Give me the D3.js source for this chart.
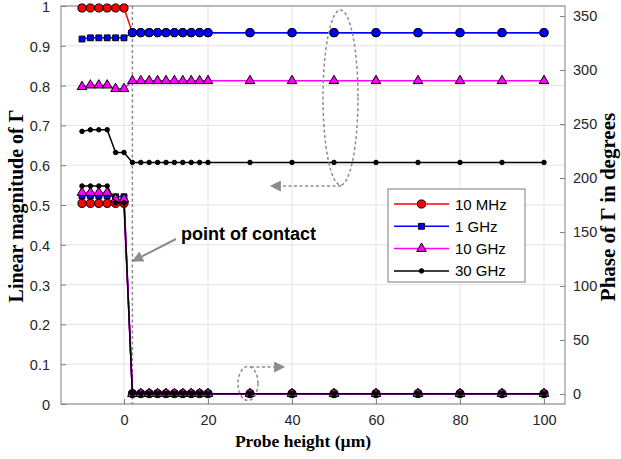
<!DOCTYPE html>
<html>
<head>
<meta charset="utf-8">
<script src="https://cdn.jsdelivr.net/npm/d3@7"></script>
<style>
  html, body { margin: 0; padding: 0; background: #fff; }
  svg { display: block; }
</style>
</head>
<body>
<svg id="chart"></svg>
<script>
// Probe height (um)
const heights = [-10, -8, -6, -4, -2, 0, 2, 4, 6, 8, 10, 12, 14, 16, 18, 20, 30, 40, 50, 60, 70, 80, 90, 100];

// Linear magnitude of Gamma (left axis)
const mag10M = [0.995, 0.995, 0.995, 0.995, 0.995, 0.995, 0.933, 0.933, 0.933, 0.933, 0.933, 0.933, 0.933, 0.933, 0.933, 0.933, 0.933, 0.933, 0.933, 0.933, 0.933, 0.933, 0.933, 0.933];
const mag1G  = [0.917, 0.920, 0.920, 0.920, 0.920, 0.920, 0.933, 0.933, 0.933, 0.933, 0.933, 0.933, 0.933, 0.933, 0.933, 0.933, 0.933, 0.933, 0.933, 0.933, 0.933, 0.933, 0.933, 0.933];
const mag10G = [0.797, 0.801, 0.801, 0.801, 0.792, 0.792, 0.812, 0.812, 0.812, 0.812, 0.812, 0.812, 0.812, 0.812, 0.812, 0.812, 0.812, 0.812, 0.812, 0.812, 0.812, 0.812, 0.812, 0.812];
const mag30G = [0.685, 0.689, 0.689, 0.689, 0.632, 0.632, 0.607, 0.607, 0.607, 0.607, 0.607, 0.607, 0.607, 0.607, 0.607, 0.607, 0.607, 0.607, 0.607, 0.607, 0.607, 0.607, 0.607, 0.607];

// Phase of Gamma in degrees (right axis)
const ph10M = [176.5, 176.5, 176.5, 176.5, 176.5, 176.5, 0.3, 0.3, 0.3, 0.3, 0.3, 0.3, 0.3, 0.3, 0.3, 0.3, 0.3, 0.3, 0.3, 0.3, 0.3, 0.3, 0.3, 0.3];
const ph1G  = [183.5, 183.5, 183.5, 183.5, 182.6, 182.6, 0.3, 0.3, 0.3, 0.3, 0.3, 0.3, 0.3, 0.3, 0.3, 0.3, 0.3, 0.3, 0.3, 0.3, 0.3, 0.3, 0.3, 0.3];
const ph10G = [186.5, 186.5, 186.5, 186.5, 180.4, 180.4, 0.3, 0.3, 0.3, 0.3, 0.3, 0.3, 0.3, 0.3, 0.3, 0.3, 0.3, 0.3, 0.3, 0.3, 0.3, 0.3, 0.3, 0.3];
const ph30G = [192.6, 192.6, 192.6, 192.6, 177.0, 177.0, 0.3, 0.3, 0.3, 0.3, 0.3, 0.3, 0.3, 0.3, 0.3, 0.3, 0.3, 0.3, 0.3, 0.3, 0.3, 0.3, 0.3, 0.3];

const seriesNames = ['10 MHz', '1 GHz', '10 GHz', '30 GHz'];
const xTicks  = [0, 20, 40, 60, 80, 100];
const yLTicks = [0, 0.1, 0.2, 0.3, 0.4, 0.5, 0.6, 0.7, 0.8, 0.9, 1];
const yRTicks = [0, 50, 100, 150, 200, 250, 300, 350];
const contactX = 2;

const W = 621, H = 459;
const m = { left: 61, right: 56, top: 6, bottom: 55 };
const iw = W - m.left - m.right, ih = H - m.top - m.bottom;

const svg = d3.select('#chart').attr('width', W).attr('height', H);
const g = svg.append('g').attr('transform', `translate(${m.left},${m.top})`);

const x  = d3.scaleLinear().domain([-15, 105]).range([0, iw]);
const yL = d3.scaleLinear().domain([0, 1]).range([ih, 0]);
const yR = d3.scaleLinear().domain([-9.3, 359.3]).range([ih, 0]);

const tickFont = '"Liberation Sans", Arial, sans-serif';
const axisCol = '#808080';
const textCol = '#262626';

// grid
g.append('g').selectAll('line').data(xTicks).join('line')
    .attr('x1', d => x(d)).attr('x2', d => x(d)).attr('y1', 0).attr('y2', ih)
    .attr('stroke', '#e3e3e3').attr('stroke-width', 1);
g.append('g').selectAll('line').data(yLTicks).join('line')
    .attr('x1', 0).attr('x2', iw).attr('y1', d => yL(d)).attr('y2', d => yL(d))
    .attr('stroke', '#e3e3e3').attr('stroke-width', 1);

// point of contact dashed line
g.append('line')
    .attr('x1', x(contactX)).attr('x2', x(contactX)).attr('y1', 0).attr('y2', ih)
    .attr('stroke', '#8c8c8c').attr('stroke-width', 1.5).attr('stroke-dasharray', '3,2.5');

// axes
function styleAxis(sel) {
    sel.select('.domain').remove();
    sel.selectAll('line').attr('stroke', axisCol);
    sel.selectAll('text').attr('fill', textCol).attr('font-family', tickFont).attr('font-size', 14.5);
}
g.append('g').attr('transform', `translate(0,${ih})`)
    .call(d3.axisBottom(x).tickValues(xTicks).tickSizeInner(-5).tickSizeOuter(0).tickPadding(11))
    .call(styleAxis);
g.append('g')
    .call(d3.axisLeft(yL).tickValues(yLTicks).tickSizeInner(-5).tickSizeOuter(0).tickPadding(11).tickFormat(d3.format('~g')))
    .call(styleAxis)
    .call(a => a.selectAll('text').attr('dy', '0.38em'));
g.append('g').attr('transform', `translate(${iw},0)`)
    .call(d3.axisRight(yR).tickValues(yRTicks).tickSizeInner(-5).tickSizeOuter(0).tickPadding(8))
    .call(styleAxis);
g.append('rect').attr('width', iw).attr('height', ih)
    .attr('fill', 'none').attr('stroke', axisCol).attr('stroke-width', 1);

// series
const colors = ['#ff0000', '#0000ff', '#ff00ff', '#000000'];
const shapes = [d3.symbolCircle, d3.symbolSquare, d3.symbolTriangle, d3.symbolCircle];
const sizes  = [52, 34, 40, 16];
const mags   = [mag10M, mag1G, mag10G, mag30G];
const phases = [ph10M, ph1G, ph10G, ph30G];

function drawSeries(vals, y, i) {
    const pts = heights.map((h, k) => ({ h, v: vals[k] }));
    g.append('path').datum(pts)
        .attr('fill', 'none').attr('stroke', colors[i]).attr('stroke-width', 1.5)
        .attr('d', d3.line().x(d => x(d.h)).y(d => y(d.v)));
    g.append('g').selectAll('path').data(pts).join('path')
        .attr('transform', d => `translate(${x(d.h)},${y(d.v)})`)
        .attr('d', d => {
            // 1 GHz markers overlap the 10 MHz circles after contact
            if (i === 1 && d.h > 0 && y === yL) return d3.symbol(d3.symbolCircle, 52)();
            return d3.symbol(shapes[i], sizes[i])();
        })
        .attr('fill', colors[i])
        .attr('stroke', '#000').attr('stroke-width', 1);
}
phases.forEach((p, i) => drawSeries(p, yR, i));
mags.forEach((p, i) => drawSeries(p, yL, i));

// annotations
const annCol = '#8c8c8c';
const defs = svg.append('defs');
defs.append('marker').attr('id', 'head2').attr('viewBox', '0 0 10 10')
    .attr('refX', 9).attr('refY', 5).attr('markerWidth', 14).attr('markerHeight', 11)
    .attr('markerUnits', 'userSpaceOnUse').attr('orient', 'auto')
    .append('path').attr('d', 'M0,0L10,5L0,10z').attr('fill', annCol);

// magnitude ellipse + arrow to left axis
svg.append('ellipse').attr('cx', 340.5).attr('cy', 97.5).attr('rx', 17.5).attr('ry', 87.5)
    .attr('fill', 'none').attr('stroke', annCol).attr('stroke-width', 1.5).attr('stroke-dasharray', '3,2.5');
svg.append('line').attr('x1', 341).attr('y1', 186).attr('x2', 271).attr('y2', 186)
    .attr('stroke', annCol).attr('stroke-width', 1.5).attr('stroke-dasharray', '3,2.5')
    .attr('marker-end', 'url(#head2)');

// phase ellipse + arrow to right axis
svg.append('ellipse').attr('cx', 248).attr('cy', 383.5).attr('rx', 10).attr('ry', 17)
    .attr('fill', 'none').attr('stroke', annCol).attr('stroke-width', 1.5).attr('stroke-dasharray', '3,2.5');
svg.append('line').attr('x1', 251).attr('y1', 367).attr('x2', 284).attr('y2', 367)
    .attr('stroke', annCol).attr('stroke-width', 1.5).attr('stroke-dasharray', '3,2.5')
    .attr('marker-end', 'url(#head2)');

// point of contact
svg.append('line').attr('x1', 176).attr('y1', 239).attr('x2', 133).attr('y2', 261)
    .attr('stroke', annCol).attr('stroke-width', 2).attr('marker-end', 'url(#head2)');
svg.append('text').attr('x', 181).attr('y', 240)
    .attr('font-family', tickFont).attr('font-weight', 'bold').attr('font-size', 18)
    .attr('fill', '#000').text('point of contact');

// legend
const lg = svg.append('g').attr('transform', 'translate(388,189)');
lg.append('rect').attr('width', 137).attr('height', 93)
    .attr('fill', '#fff').attr('stroke', '#7a7a7a').attr('stroke-width', 1);
seriesNames.forEach((name, i) => {
    const ly = 15 + i * 22.3;
    lg.append('line').attr('x1', 6).attr('x2', 61).attr('y1', ly).attr('y2', ly)
        .attr('stroke', colors[i]).attr('stroke-width', 1.5);
    lg.append('path').attr('transform', `translate(33.5,${ly})`)
        .attr('d', d3.symbol(shapes[i], sizes[i])())
        .attr('fill', colors[i]).attr('stroke', '#000').attr('stroke-width', 1);
    lg.append('text').attr('x', 67).attr('y', ly + 5.5)
        .attr('font-family', tickFont).attr('font-size', 15).attr('fill', '#000').text(name);
});

// axis titles
const titleFont = '"Liberation Serif", "Times New Roman", serif';
svg.append('text').attr('x', m.left + iw / 2 - 10).attr('y', 447)
    .attr('text-anchor', 'middle').attr('font-family', titleFont).attr('font-weight', 'bold')
    .attr('font-size', 17.5).attr('fill', '#000').text('Probe height (µm)');
svg.append('text').attr('transform', `translate(23,${m.top + ih / 2 + 1}) rotate(-90)`)
    .attr('text-anchor', 'middle').attr('font-family', titleFont).attr('font-weight', 'bold')
    .attr('font-size', 20).attr('fill', '#000').text('Linear magnitude of Γ');
svg.append('text').attr('transform', `translate(615,${m.top + ih / 2 + 2}) rotate(-90)`)
    .attr('text-anchor', 'middle').attr('font-family', titleFont).attr('font-weight', 'bold')
    .attr('font-size', 21).attr('fill', '#000').text('Phase of Γ in degrees');
</script>
</body>
</html>
